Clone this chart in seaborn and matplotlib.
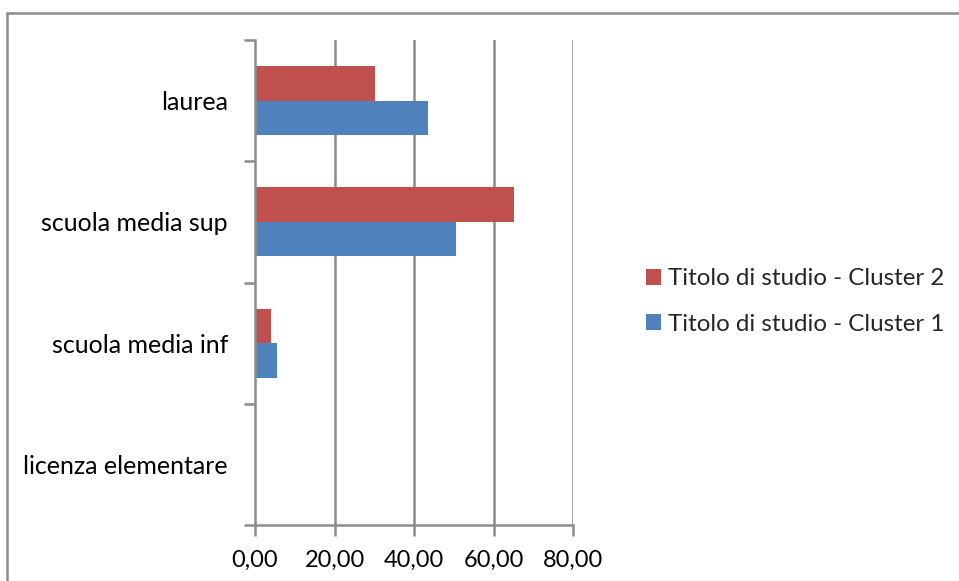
import matplotlib
matplotlib.use("Agg")
import matplotlib.pyplot as plt
import seaborn as sns
import pandas as pd
from matplotlib.lines import Line2D
from matplotlib.ticker import FixedLocator, FuncFormatter

# Education level share by cluster (percent)
categories = ["laurea", "scuola media sup", "scuola media inf", "licenza elementare"]
series_names = ["Titolo di studio - Cluster 2", "Titolo di studio - Cluster 1"]
cluster2 = [30.2, 65.2, 4.1, 0.0]
cluster1 = [43.6, 50.6, 5.5, 0.0]
x_ticks = [0, 20, 40, 60, 80]

df = pd.DataFrame({
    "categoria": categories * 2,
    "serie": [series_names[0]] * len(categories) + [series_names[1]] * len(categories),
    "valore": cluster2 + cluster1,
})

sns.set_theme(style="white")
plt.rcParams["font.family"] = ["Lato", "DejaVu Sans"]

W, H = 959, 581
fig = plt.figure(figsize=(W / 100, H / 100), dpi=100)
ax = fig.add_axes([255 / W, 1 - 525 / H, (573 - 255) / W, (525 - 40) / H])

colors = {series_names[0]: "#C0504D", series_names[1]: "#4F81BD"}
sns.barplot(data=df, y="categoria", x="valore", hue="serie", order=categories,
            hue_order=series_names, palette=colors, orient="h", width=0.57,
            gap=0, saturation=1, linewidth=0, ax=ax, legend=True)

ax.set_xlim(0, 80)
ax.set_ylim(len(categories) - 0.5, -0.5)
ax.set_xlabel("")
ax.set_ylabel("")

grey = "#8C8C8C"
ax.xaxis.set_major_locator(FixedLocator(x_ticks))
ax.xaxis.set_major_formatter(FuncFormatter(lambda v, p: f"{v:.2f}".replace(".", ",")))
for v in x_ticks[1:]:
    ax.axvline(v, color=grey, lw=1.8, zorder=0)

# category labels at band centres, tick marks at band boundaries
ax.yaxis.set_major_locator(FixedLocator([i - 0.5 for i in range(len(categories) + 1)]))
ax.yaxis.set_major_formatter(FuncFormatter(lambda v, p: ""))
ax.set_yticks(range(len(categories)), labels=categories, minor=True)

ax.tick_params(axis="y", which="major", length=8, width=1.8, color=grey, left=True)
ax.tick_params(axis="y", which="minor", length=0, pad=19.5, labelsize=18, labelcolor="#000000")
ax.tick_params(axis="x", which="major", length=8, width=1.8, color=grey, bottom=True,
               pad=10, labelsize=17, labelcolor="#000000")

for s in ["top", "right"]:
    ax.spines[s].set_visible(False)
for s in ["left", "bottom"]:
    ax.spines[s].set_color(grey)
    ax.spines[s].set_linewidth(1.8)

handles, labels = ax.get_legend_handles_labels()
ax.legend_.remove()
fig.legend(handles, labels, loc="center left",
           bbox_to_anchor=(646 / W, 1 - 301.5 / H), frameon=False, fontsize=17.4,
           handlelength=0.6, handleheight=0.6, handletextpad=0.3,
           labelspacing=1.0, borderpad=0, borderaxespad=0)

# outer chart frame (left and top edges)
fx, fy = 6.5 / W, 1 - 12.5 / H
fig.add_artist(Line2D([fx, fx, 1.0], [0.0, fy, fy], transform=fig.transFigure,
                      color=grey, lw=1.8, solid_joinstyle="miter"))

fig.savefig("out.png", dpi=100)
